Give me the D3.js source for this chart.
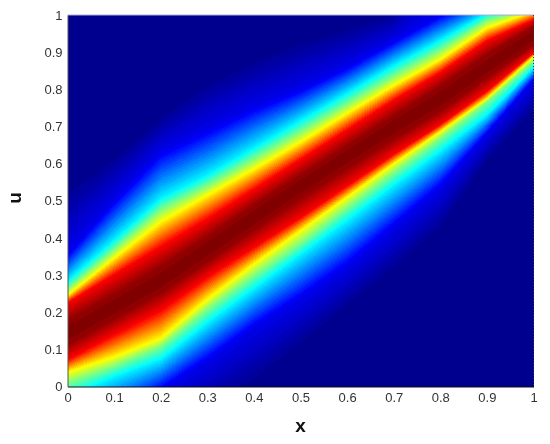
<!DOCTYPE html>
<html>
<head>
<meta charset="utf-8">
<script src="https://cdn.jsdelivr.net/npm/d3@7"></script>
<style>
	html, body { margin: 0; padding: 0; background: #fff; }
	#chart { position: relative; width: 550px; height: 444px; overflow: hidden; }
	#chart canvas, #chart svg { position: absolute; left: 0; top: 0; }
	text { font-family: "Liberation Sans", Arial, sans-serif; }
</style>
</head>
<body>
<div id="chart"></div>
<script>
var xTicks = [0, 0.1, 0.2, 0.3, 0.4, 0.5, 0.6, 0.7, 0.8, 0.9, 1];
var uTicks = [0, 0.1, 0.2, 0.3, 0.4, 0.5, 0.6, 0.7, 0.8, 0.9, 1];

var xNodes = [0, 0.1, 0.2, 0.3, 0.4, 0.5, 0.6, 0.7, 0.8, 0.9, 1];

// u position of each intensity level, per x node. lower flank of the ridge first
var lowDark   = [-0.30, -0.20, -0.12, -0.05, 0.02, 0.117, 0.22, 0.32, 0.43, 0.61, 0.744];
var lowBlue   = [-0.15, -0.08, -0.01, 0.07, 0.16, 0.238, 0.325, 0.43, 0.537, 0.68, 0.825];
var lowCyan   = [-0.03, 0.025, 0.072, 0.17, 0.262, 0.354, 0.445, 0.54, 0.632, 0.73, 0.857];
var lowGreen  = [0.01, 0.055, 0.108, 0.208, 0.30, 0.386, 0.482, 0.576, 0.668, 0.766, 0.874];
var lowYellow = [0.039, 0.08, 0.13, 0.235, 0.33, 0.42, 0.51, 0.60, 0.686, 0.775, 0.888];
var lowRed    = [0.072, 0.14, 0.205, 0.295, 0.375, 0.455, 0.54, 0.625, 0.705, 0.795, 0.898];
var lowPeak   = [0.11, 0.18, 0.25, 0.335, 0.42, 0.505, 0.585, 0.665, 0.74, 0.83, 0.92];
var ridge     = [0.143, 0.215, 0.285, 0.37, 0.455, 0.54, 0.62, 0.70, 0.775, 0.86, 0.945];
var upPeak    = [0.18, 0.25, 0.325, 0.405, 0.49, 0.57, 0.65, 0.73, 0.81, 0.895, 0.97];
var upRed     = [0.225, 0.30, 0.375, 0.45, 0.53, 0.61, 0.69, 0.77, 0.845, 0.93, 0.987];
var upYellow  = [0.245, 0.345, 0.443, 0.515, 0.585, 0.658, 0.735, 0.81, 0.88, 0.965, 1.01];
var upGreen   = [0.262, 0.368, 0.475, 0.54, 0.612, 0.685, 0.76, 0.835, 0.905, 0.985, 1.02];
var upCyan    = [0.285, 0.395, 0.507, 0.57, 0.643, 0.717, 0.79, 0.865, 0.933, 1.005, 1.03];
var upBlue    = [0.355, 0.50, 0.63, 0.69, 0.75, 0.80, 0.86, 0.93, 1.0, 1.05, 1.1];
var upDark    = [0.52, 0.61, 0.72, 0.81, 0.87, 0.92, 0.96, 1.0, 1.2, 1.3, 1.4];

var contours = [lowDark, lowBlue, lowCyan, lowGreen, lowYellow, lowRed, lowPeak, ridge,
	upPeak, upRed, upYellow, upGreen, upCyan, upBlue, upDark];
var contourLevels = [0.015, 0.11, 0.365, 0.5, 0.625, 0.875, 0.97, 1,
	0.97, 0.875, 0.625, 0.5, 0.365, 0.11, 0.015];

// matlab jet, 64 steps
var jetStops = [0, 0.125, 0.375, 0.625, 0.875, 1];
var jetColors = ["rgb(0,0,143)", "rgb(0,0,255)", "rgb(0,255,255)", "rgb(255,255,0)", "rgb(255,0,0)", "rgb(128,0,0)"];

var width = 550,
	height = 444,
	margin = { top: 15, right: 16.5, bottom: 57.5, left: 67.5 };

var x = d3.scaleLinear().domain([0, 1]).range([margin.left, width - margin.right]);
var y = d3.scaleLinear().domain([0, 1]).range([height - margin.bottom, margin.top]);

var jet = d3.scaleLinear().domain(jetStops).range(jetColors).interpolate(d3.interpolateRgb);
var palette = d3.range(64).map(function(i) {
	return d3.rgb(jet(i / 63));
});

var canvas = d3.select("#chart").append("canvas")
	.attr("width", width)
	.attr("height", height)
	.node();
var ctx = canvas.getContext("2d");

var left = Math.round(x(0)),
	right = Math.round(x(1)),
	top_ = Math.round(y(1)),
	bottom = Math.round(y(0));
var image = ctx.createImageData(right - left, bottom - top_);

var contourScales = contours.map(function(c) {
	return d3.scaleLinear().domain(xNodes).range(c);
});

for (var i = left; i < right; i++) {
	var xv = x.invert(i + 0.5);
	var section = d3.scaleLinear()
		.domain(contourScales.map(function(s) { return s(xv); }))
		.range(contourLevels)
		.clamp(true);
	for (var j = top_; j < bottom; j++) {
		var v = section(y.invert(j + 0.5));
		var c = palette[Math.min(63, Math.floor(v * 64))];
		var k = ((j - top_) * (right - left) + (i - left)) * 4;
		image.data[k] = c.r;
		image.data[k + 1] = c.g;
		image.data[k + 2] = c.b;
		image.data[k + 3] = 255;
	}
}
ctx.putImageData(image, left, top_);

var svg = d3.select("#chart").append("svg")
	.attr("width", width)
	.attr("height", height);

var xAxis = d3.axisBottom(x)
	.tickValues(xTicks)
	.tickFormat(d3.format("~g"))
	.tickSize(0)
	.tickPadding(6);

var yAxis = d3.axisLeft(y)
	.tickValues(uTicks)
	.tickFormat(d3.format("~g"))
	.tickSize(0)
	.tickPadding(5);

var gx = svg.append("g")
	.attr("transform", "translate(0," + y(0) + ")")
	.call(xAxis);
gx.select(".domain").attr("stroke", "#111").attr("stroke-width", 1);

var gy = svg.append("g")
	.attr("transform", "translate(" + x(0) + ",0)")
	.call(yAxis);
gy.select(".domain").attr("stroke", "#555").attr("stroke-width", 1);

svg.selectAll(".tick text")
	.attr("fill", "#333")
	.style("font-size", "13px");

// top edge is a pale line, right edge is dotted in the original
svg.append("line")
	.attr("x1", x(0)).attr("x2", x(1))
	.attr("y1", y(1)).attr("y2", y(1))
	.attr("stroke", "#aaaadd");

svg.append("line")
	.attr("x1", x(1)).attr("x2", x(1))
	.attr("y1", y(1)).attr("y2", y(0))
	.attr("stroke", "#333")
	.attr("stroke-dasharray", "1,2");

svg.append("text")
	.attr("x", x(0.5))
	.attr("y", 432)
	.attr("text-anchor", "middle")
	.style("font-size", "19px")
	.style("font-weight", "bold")
	.attr("fill", "#111")
	.text("x");

svg.append("text")
	.attr("transform", "translate(21,198) rotate(-90)")
	.attr("text-anchor", "middle")
	.style("font-size", "19px")
	.style("font-weight", "bold")
	.attr("fill", "#111")
	.text("u");
</script>
</body>
</html>
